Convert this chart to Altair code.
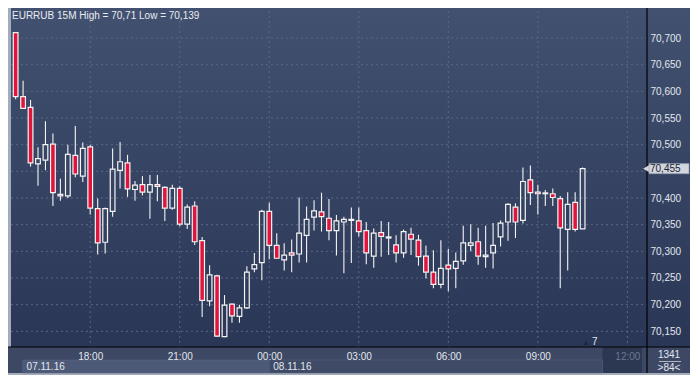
import altair as alt
import pandas as pd
import numpy as np

# ---------------- data ----------------
TITLE = "EURRUB 15M High = 70,71 Low = 70,139"
START = "2016-11-07 15:30"   # first 15-minute bar

OPEN = [70.710, 70.590, 70.570, 70.464, 70.471, 70.501, 70.407, 70.404, 70.480, 70.441,
        70.496, 70.380, 70.317, 70.375, 70.452, 70.466, 70.416, 70.425, 70.411, 70.425,
        70.420, 70.381, 70.418, 70.351, 70.385, 70.320, 70.207, 70.254, 70.140, 70.201,
        70.178, 70.194, 70.267, 70.279, 70.375, 70.311, 70.284, 70.297, 70.295, 70.330,
        70.364, 70.374, 70.362, 70.339, 70.355, 70.358, 70.357, 70.339, 70.291, 70.335,
        70.325, 70.312, 70.297, 70.332, 70.321, 70.291, 70.261, 70.238, 70.274, 70.268,
        70.282, 70.311, 70.318, 70.290, 70.297, 70.327, 70.355, 70.383, 70.358, 70.434,
        70.411, 70.408, 70.408, 70.399, 70.341, 70.392, 70.342]
HIGH = [70.710, 70.620, 70.584, 70.495, 70.544, 70.521, 70.436, 70.500, 70.535, 70.504,
        70.500, 70.399, 70.382, 70.493, 70.505, 70.481, 70.432, 70.441, 70.443, 70.443,
        70.422, 70.425, 70.422, 70.388, 70.394, 70.327, 70.274, 70.256, 70.218, 70.202,
        70.200, 70.272, 70.297, 70.378, 70.391, 70.334, 70.315, 70.322, 70.401, 70.384,
        70.396, 70.410, 70.398, 70.368, 70.365, 70.382, 70.382, 70.355, 70.343, 70.357,
        70.355, 70.330, 70.341, 70.344, 70.331, 70.311, 70.302, 70.321, 70.305, 70.298,
        70.348, 70.351, 70.344, 70.348, 70.353, 70.358, 70.390, 70.390, 70.457, 70.461,
        70.425, 70.415, 70.418, 70.404, 70.411, 70.411, 70.457]
LOW = [70.585, 70.567, 70.459, 70.423, 70.452, 70.385, 70.395, 70.400, 70.439, 70.430,
       70.369, 70.294, 70.296, 70.365, 70.418, 70.402, 70.395, 70.405, 70.361, 70.394,
       70.357, 70.378, 70.347, 70.342, 70.312, 70.177, 70.197, 70.140, 70.139, 70.166,
       70.166, 70.192, 70.261, 70.246, 70.285, 70.286, 70.264, 70.261, 70.279, 70.279,
       70.339, 70.337, 70.321, 70.292, 70.259, 70.278, 70.328, 70.276, 70.269, 70.290,
       70.293, 70.279, 70.288, 70.293, 70.273, 70.249, 70.231, 70.231, 70.225, 70.231,
       70.275, 70.300, 70.275, 70.269, 70.268, 70.309, 70.320, 70.325, 70.352, 70.387,
       70.369, 70.385, 70.385, 70.231, 70.264, 70.337, 70.342]
CLOSE = [70.590, 70.568, 70.466, 70.474, 70.500, 70.410, 70.404, 70.482, 70.445, 70.493,
         70.381, 70.316, 70.380, 70.454, 70.468, 70.417, 70.424, 70.411, 70.425, 70.422,
         70.381, 70.418, 70.351, 70.383, 70.318, 70.208, 70.256, 70.141, 70.199, 70.179,
         70.194, 70.261, 70.275, 70.375, 70.311, 70.287, 70.293, 70.293, 70.334, 70.360,
         70.376, 70.365, 70.339, 70.357, 70.360, 70.360, 70.337, 70.297, 70.334, 70.328,
         70.327, 70.297, 70.337, 70.323, 70.290, 70.261, 70.238, 70.268, 70.267, 70.281,
         70.316, 70.316, 70.291, 70.293, 70.311, 70.353, 70.388, 70.355, 70.431, 70.410,
         70.408, 70.4095, 70.401, 70.344, 70.388, 70.341, 70.455]

Y_GRID = [70.15, 70.20, 70.25, 70.30, 70.35, 70.40, 70.45, 70.50, 70.55, 70.60, 70.65, 70.70]
Y_LABELS = [70.15, 70.20, 70.25, 70.30, 70.35, 70.40, 70.50, 70.55, 70.60, 70.65, 70.70]
Y_DOMAIN = [70.1206, 70.7507]
TIME_TICKS = [(7, 18), (7, 21), (8, 0), (8, 3), (8, 6), (8, 9), (8, 12)]   # (day, hour)
LAST_PRICE = 70.455
DATES = ["07.11.16", "08.11.16"]
DATE_START = ["2016-11-07T15:44:00", "2016-11-08T00:00:00"]
DATE_END = ["2016-11-08T00:00:00", "2016-11-08T11:10:00"]
FUTURE = ["2016-11-08T11:10:00", "2016-11-08T12:29:24"]
BAR_COUNT = "1341"
SHIFT = ">84<"
MARKER = "7"

# ---------------- layout ----------------
W, H = 636, 336          # plot area
RP, BP = 43, 28          # right price panel, bottom time panel
FONT = "Liberation Sans"
FS = 10
TXT = "#e3e7ee"

times = pd.date_range(START, periods=len(OPEN), freq="15min")
df = pd.DataFrame({
    "t": times.strftime("%Y-%m-%dT%H:%M:%S"),
    "open": OPEN, "high": HIGH, "low": LOW, "close": CLOSE,
})
df["top"] = np.maximum(df["open"], df["close"])
df["bot"] = np.minimum(df["open"], df["close"])

def dt(d, h, m=0, s=0):
    return alt.DateTime(year=2016, month=11, date=d, hours=h, minutes=m, seconds=s)

xs = alt.Scale(domain=[dt(7, 15, 30, 45), dt(8, 12, 29, 24)])
ys = alt.Scale(domain=Y_DOMAIN, nice=False, zero=False)

x_axis = alt.Axis(
    values=[dt(d, h) for d, h in TIME_TICKS], format="%H:%M", grid=False, ticks=False,
    tickSize=0, domain=False, labelPadding=9, labelBaseline="middle",
    labelColor={"condition": {"test": "hours(datum.value) == 12", "value": "#6c7891"}, "value": TXT},
    labelFont=FONT, labelFontSize=FS, title=None, zindex=1, labelFlush=False, labelOverlap=False,
)
y_axis = alt.Axis(
    orient="right", values=Y_LABELS, labelExpr="replace(format(datum.value, '.3f'), '.', ',')",
    grid=False, ticks=False, tickSize=0, domain=False, labelPadding=3, labelColor=TXT,
    labelFont=FONT, labelFontSize=FS, title=None, zindex=1, labelOverlap=False, labelFlush=False,
)

def X(field):
    return alt.X(field, type="temporal", scale=xs, axis=x_axis)

def Y(field):
    return alt.Y(field, type="quantitative", scale=ys, axis=y_axis)

one = pd.DataFrame({"k": [0]})
grad = alt.Gradient(
    gradient="linear", x1=0, x2=0, y1=0, y2=1,
    stops=[alt.GradientStop(color="#425170", offset=0), alt.GradientStop(color="#2a3656", offset=1)],
)

bg = alt.Chart(one).mark_rect(fill=grad).encode(
    x=alt.value(0), x2=alt.value(W + RP), y=alt.value(-3), y2=alt.value(H))
bottom = alt.Chart(one).mark_rect(fill="#3c4864").encode(
    x=alt.value(-3), x2=alt.value(W + RP), y=alt.value(H), y2=alt.value(H + BP - 2))

fut = alt.Chart(pd.DataFrame({"s": [FUTURE[0]], "e": [FUTURE[1]]})).mark_rect(fill="#2c3751").encode(
    x=X("s"), x2="e:T", y=alt.value(H), y2=alt.value(H + BP - 2))

dates_df = pd.DataFrame({"s": DATE_START, "e": DATE_END, "label": DATES, "shade": ["a", "b"]})
date_rect = alt.Chart(dates_df).mark_rect(stroke="#5a6782", strokeWidth=0.5).encode(
    x=X("s"), x2="e:T",
    y=alt.value(H + 13), y2=alt.value(H + BP - 2),
    fill=alt.Fill("shade:N", scale=alt.Scale(domain=["a", "b"], range=["#4d5a77", "#3e4a66"]), legend=None),
)
date_text = alt.Chart(dates_df).mark_text(align="left", baseline="middle", dx=4, font=FONT,
                                          fontSize=FS, color=TXT).encode(
    x=X("s"), y=alt.value(H + 20), text="label:N")

hgrid = alt.Chart(pd.DataFrame({"v": Y_GRID})).mark_rule(
    color="#5a6886", strokeDash=[2, 3], strokeWidth=1).encode(
    y=Y("v"), x=alt.value(0), x2=alt.value(W))
vgrid = alt.Chart(pd.DataFrame({"t": [f"2016-11-{d:02d}T{h:02d}:00:00" for d, h in TIME_TICKS]})).mark_rule(
    color="#5a6886", strokeDash=[2, 3], strokeWidth=1).encode(
    x=X("t"), y=alt.value(0), y2=alt.value(H))

base = alt.Chart(df)
WICK = "#f4f4f4"
wick_hi = base.mark_rule(color=WICK, strokeWidth=1.1, clip=True).encode(
    x=X("t"), y=Y("high"), y2="top:Q")
wick_lo = base.mark_rule(color=WICK, strokeWidth=1.1, clip=True).encode(
    x=X("t"), y=Y("bot"), y2="low:Q")
body = base.mark_bar(size=4.7, stroke=WICK, strokeWidth=1.2, clip=True).encode(
    x=X("t"), y=Y("top"), y2="bot:Q",
    fill=alt.condition("datum.close < datum.open", alt.value("#e0143c"), alt.value("transparent")),
)

seps = alt.Chart(one).mark_rule(color="#000000", strokeWidth=1.2).encode(
    x=alt.value(W), y=alt.value(-3), y2=alt.value(H + BP - 2))
seph = alt.Chart(one).mark_rule(color="#000000", strokeWidth=1.2).encode(
    x=alt.value(-3), x2=alt.value(W + RP), y=alt.value(H))

tag_df = pd.DataFrame({"p": [LAST_PRICE], "hi": [LAST_PRICE + 0.0095], "lo": [LAST_PRICE - 0.0095],
                       "label": [f"{LAST_PRICE:.3f}".replace(".", ",")]})
tag_rect = alt.Chart(tag_df).mark_rect(fill="#d2d6dd", stroke="#8d97a8", strokeWidth=0.6).encode(
    x=alt.value(W + 2), x2=alt.value(W + 42), y=Y("hi"), y2="lo:Q")
tag_arrow = alt.Chart(tag_df).mark_point(shape="triangle-left", filled=True, color="#d2d6dd",
                                         size=45, opacity=1).encode(
    x=alt.value(W - 1), y=Y("p"))
tag_text = alt.Chart(tag_df).mark_text(align="left", baseline="middle", font=FONT, fontSize=FS,
                                       color="#1b2232").encode(
    x=alt.value(W + 3), y=Y("p"), text="label:N")

title = alt.Chart(pd.DataFrame({"s": [TITLE]})).mark_text(
    align="left", baseline="middle", font=FONT, fontSize=FS, color="#e9ecf2").encode(
    x=alt.value(1), y=alt.value(5), text="s:N")

marker_tri = alt.Chart(one).mark_point(shape="triangle-up", filled=True, color="#1e2538",
                                       size=22, opacity=1).encode(x=alt.value(575), y=alt.value(332))
marker_txt = alt.Chart(pd.DataFrame({"s": [MARKER]})).mark_text(
    align="left", baseline="middle", font=FONT, fontSize=FS, color=TXT).encode(
    x=alt.value(581), y=alt.value(331), text="s:N")

count_txt = alt.Chart(pd.DataFrame({"s": [BAR_COUNT]})).mark_text(
    align="center", baseline="middle", font=FONT, fontSize=FS, color=TXT).encode(
    x=alt.value(W + 22), y=alt.value(H + 8), text="s:N")
shift_txt = alt.Chart(pd.DataFrame({"s": [SHIFT]})).mark_text(
    align="center", baseline="middle", font=FONT, fontSize=FS, color=TXT).encode(
    x=alt.value(W + 22), y=alt.value(H + 21), text="s:N")
corner_line = alt.Chart(one).mark_rule(color="#c9d0dc", strokeWidth=0.8).encode(
    x=alt.value(W + 12), x2=alt.value(W + 34), y=alt.value(H + 14.5))

chart = alt.layer(
    bg, bottom, fut, date_rect, date_text, hgrid, vgrid,
    wick_hi, wick_lo, body, seps, seph,
    tag_rect, tag_arrow, tag_text, title, marker_tri, marker_txt, corner_line, count_txt, shift_txt,
).properties(
    width=W, height=H,
    padding={"left": 3, "top": 3, "right": RP, "bottom": BP},
    autosize=alt.AutoSizeParams(type="none"),
    background="#a3acbb",
).configure_view(stroke=None)

chart.save("out.html", embed_options={"renderer": "svg", "actions": False})
